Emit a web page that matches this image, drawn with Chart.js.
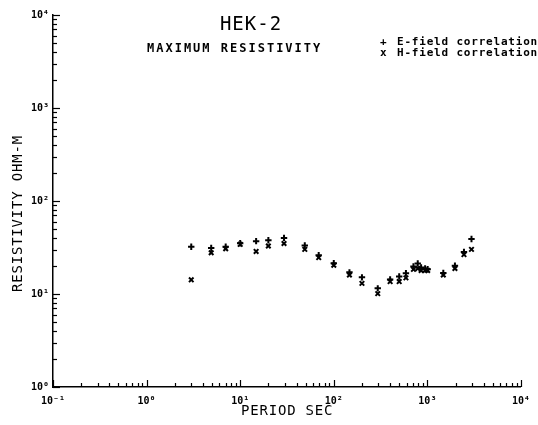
<!DOCTYPE html>
<html>
<head>
<meta charset="utf-8">
<script src="https://cdn.jsdelivr.net/npm/chart.js@4/dist/chart.umd.min.js"></script>
<style>
  html, body { margin: 0; padding: 0; background: #fff; }
  #wrap { width: 538px; height: 425px; }
</style>
</head>
<body>
<div id="wrap"><canvas id="grafico"></canvas></div>
<script>
// Periodos (s) y resistividad aparente (ohm-m)
const periodos = [3, 4.9, 7, 10, 14.8, 20, 29.4, 49, 69, 100, 147, 200, 295, 400, 500, 590,
                  710, 789, 857, 946, 1007, 1480, 1970, 2460, 2960];
const campoE = [32.2, 31.2, 32.2, 35.1, 37.0, 37.9, 40.1, 33.2, 26.1, 21.4, 17.1, 15.1, 11.5, 14.3, 15.4, 16.7,
                19.8, 21.3, 19.3, 18.8, 18.5, 16.8, 20.1, 28.3, 39.1];
const campoH = [14.2, 27.8, 30.7, 34.2, 28.7, 32.8, 34.9, 30.2, 24.6, 20.4, 16.0, 13.0, 10.1, 13.6, 13.6, 14.9,
                18.4, 18.8, 17.9, 17.9, 17.9, 16.0, 18.8, 26.5, 30.2];

const ejeX = { min: 0.1, max: 10000 };
const ejeY = { min: 1, max: 10000 };

const superIndices = { '-1': '⁻¹', '0': '⁰', '1': '¹', '2': '²', '3': '³', '4': '⁴' };

function esDecada(v) {
  const l = Math.log10(v);
  return Math.abs(l - Math.round(l)) < 1e-9;
}

// ticks 1..9 de cada década
function ticksLog(min, max) {
  const out = [];
  for (let e = Math.round(Math.log10(min)); e < Math.round(Math.log10(max)); e++) {
    for (let s = 1; s < 10; s++) out.push(+(s * Math.pow(10, e)).toPrecision(3));
  }
  out.push(max);
  return out.map(v => ({ value: v, major: esDecada(v) }));
}

function etiqueta(v) {
  if (!esDecada(v)) return '';
  return '10' + superIndices[String(Math.round(Math.log10(v)))];
}

// marcas de escala hacia adentro del área del gráfico
const marcasInternas = {
  id: 'marcasInternas',
  afterDraw(chart) {
    const ctx = chart.ctx;
    const xs = chart.scales.x, ys = chart.scales.y;
    const area = chart.chartArea;
    ctx.save();
    ctx.strokeStyle = '#000';
    ctx.lineWidth = 1.2;
    xs.ticks.forEach(t => {
      const px = Math.round(xs.getPixelForValue(t.value)) + 0.5;
      const len = t.major ? 7 : 4;
      ctx.beginPath();
      ctx.moveTo(px, area.bottom);
      ctx.lineTo(px, area.bottom - len);
      ctx.stroke();
    });
    ys.ticks.forEach(t => {
      const py = Math.round(ys.getPixelForValue(t.value)) + 0.5;
      const len = t.major ? 7 : 4;
      ctx.beginPath();
      ctx.moveTo(area.left, py);
      ctx.lineTo(area.left + len, py);
      ctx.stroke();
    });
    ctx.restore();
  }
};

// títulos, leyenda y nombres de ejes
const textos = {
  id: 'textos',
  afterDraw(chart) {
    const ctx = chart.ctx;
    ctx.save();
    ctx.fillStyle = '#000';
    ctx.textBaseline = 'middle';

    ctx.font = '19px "DejaVu Sans Mono"';
    ctx.letterSpacing = '1px';
    ctx.textAlign = 'center';
    ctx.fillText('HEK-2', 251, 25);

    ctx.font = 'bold 12px "DejaVu Sans Mono"';
    ctx.letterSpacing = '2px';
    ctx.textAlign = 'left';
    ctx.fillText('MAXIMUM RESISTIVITY', 147, 49);

    ctx.font = 'bold 11px "DejaVu Sans Mono"';
    ctx.letterSpacing = '0.8px';
    ctx.fillText('+', 380, 42);
    ctx.fillText('x', 380, 53);
    ctx.fillText('E-field correlation', 397, 42);
    ctx.fillText('H-field correlation', 397, 53);

    ctx.font = '14px "DejaVu Sans Mono"';
    ctx.letterSpacing = '0.8px';
    ctx.textAlign = 'left';
    ctx.fillText('PERIOD SEC', 241, 411);

    ctx.translate(18, 292);
    ctx.rotate(-Math.PI / 2);
    ctx.fillText('RESISTIVITY OHM-M', 0, 0);
    ctx.restore();
  }
};

const fuenteTicks = { family: 'DejaVu Sans Mono', size: 10, weight: 'bold' };

new Chart(document.getElementById('grafico'), {
  type: 'scatter',
  data: {
    datasets: [
      {
        label: 'E-field correlation',
        data: periodos.map((p, i) => ({ x: p, y: campoE[i] })),
        pointStyle: 'cross',
        pointRadius: 3.2,
        borderColor: '#000',
        borderWidth: 2
      },
      {
        label: 'H-field correlation',
        data: periodos.map((p, i) => ({ x: p, y: campoH[i] })),
        pointStyle: 'crossRot',
        pointRadius: 3.2,
        borderColor: '#000',
        borderWidth: 2
      }
    ]
  },
  options: {
    responsive: true,
    maintainAspectRatio: false,
    animation: false,
    layout: { padding: { top: 15, right: 16, left: 0, bottom: 0 } },
    plugins: {
      legend: { display: false },
      title: { display: false },
      tooltip: { enabled: false }
    },
    scales: {
      x: {
        type: 'logarithmic',
        position: 'bottom',
        min: ejeX.min,
        max: ejeX.max,
        grid: { display: false, drawTicks: false },
        border: { display: true, color: '#000', width: 1.5 },
        afterBuildTicks(axis) { axis.ticks = ticksLog(ejeX.min, ejeX.max); },
        afterFit(axis) { axis.height = 38; },
        ticks: {
          autoSkip: false,
          maxRotation: 0,
          padding: 8,
          color: '#000',
          font: fuenteTicks,
          callback: v => etiqueta(v)
        }
      },
      y: {
        type: 'logarithmic',
        position: 'left',
        min: ejeY.min,
        max: ejeY.max,
        grid: { display: false, drawTicks: false },
        border: { display: true, color: '#000', width: 1.5 },
        afterBuildTicks(axis) { axis.ticks = ticksLog(ejeY.min, ejeY.max); },
        afterFit(axis) { axis.width = 53; },
        ticks: {
          autoSkip: false,
          padding: 4,
          color: '#000',
          font: fuenteTicks,
          callback: v => etiqueta(v)
        }
      }
    }
  },
  plugins: [marcasInternas, textos]
});
</script>
</body>
</html>
